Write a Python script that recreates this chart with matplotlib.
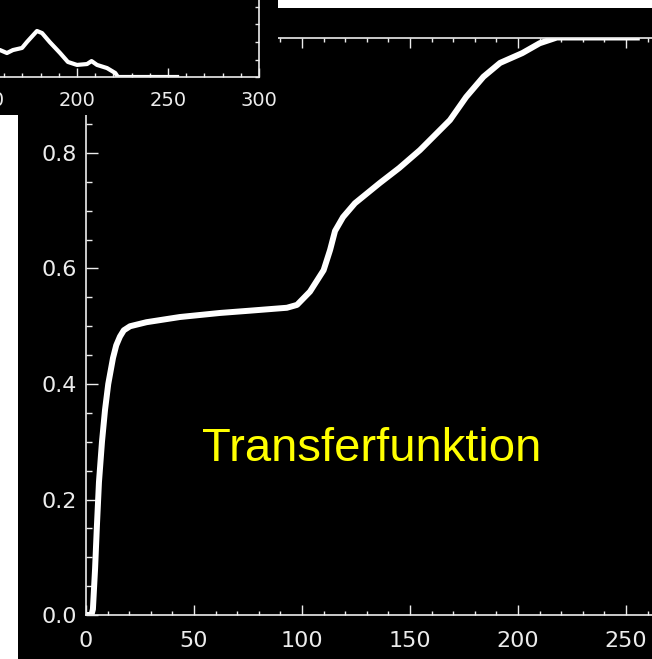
import matplotlib
matplotlib.use("Agg")
import matplotlib.pyplot as plt
from matplotlib.patches import Rectangle
from matplotlib.ticker import MultipleLocator

# transfer function (grey value in -> normalised out)
grey_in = [1, 2.5, 3.2, 4.2, 5, 6, 7.4, 8.8, 10.3, 12.5, 14, 15.7, 17.5, 20.4, 28, 43.5,
           62, 76, 93, 97.7, 103.7, 110, 113, 115.3, 119, 124.5, 136, 145, 154.6,
           168.5, 176, 184, 191.7, 202, 210, 218, 255]
transfer = [0.0, 0.0, 0.01, 0.08, 0.15, 0.23, 0.30, 0.355, 0.40, 0.445, 0.467, 0.482,
            0.493, 0.50, 0.507, 0.516, 0.523, 0.527, 0.532, 0.537, 0.56, 0.597,
            0.632, 0.665, 0.689, 0.713, 0.748, 0.774, 0.805, 0.857, 0.897, 0.932,
            0.956, 0.973, 0.99, 1.0, 1.0]

# histogram (upper tail only)
hist_grey = [150, 157.7, 161.5, 164.8, 169.8, 172.5, 178, 180.8, 185, 190.7, 195,
             200, 205.5, 208, 211, 216.5, 221, 222.5, 255]
hist_count = [1600, 1540, 1370, 1540, 1660, 2000, 2630, 2510, 2000, 1370, 860,
              690, 740, 910, 690, 510, 230, 0, 0]

W, H = 652, 659
fg = "#ececec"
fig = plt.figure(figsize=(W / 100, H / 100), dpi=100, facecolor="white")


def px_box(x0, y0, x1, y1):
    # pixel box measured from the top-left corner -> figure fraction rect
    return [x0 / W, 1 - y1 / H, (x1 - x0) / W, (y1 - y0) / H]


# black panel behind the main plot
b = px_box(18, 8, W, H)
fig.add_artist(Rectangle((b[0], b[1]), b[2], b[3], transform=fig.transFigure,
                         facecolor="black", edgecolor="none", zorder=-1))

ax = fig.add_axes(px_box(86, 37.5, 86 + 300 * 2.16, 615), zorder=1)
ax.set_facecolor("black")
ax.plot(grey_in, transfer, color="white", lw=4.3, solid_joinstyle="round")
ax.set_xlim(0, 300)
ax.set_ylim(0, 1)
ax.xaxis.set_major_locator(MultipleLocator(50))
ax.xaxis.set_minor_locator(MultipleLocator(10))
ax.yaxis.set_major_locator(MultipleLocator(0.2))
ax.yaxis.set_minor_locator(MultipleLocator(0.05))
ax.yaxis.set_major_formatter(lambda v, p: f"{v:.1f}")
ax.tick_params(which="both", direction="in", color=fg, width=1, top=True,
               labelcolor=fg, labelsize=16)
ax.tick_params(axis="x", which="major", length=7.5, pad=11.5)
ax.tick_params(axis="x", which="minor", length=3)
ax.tick_params(axis="y", which="major", length=8.5, pad=6.5)
ax.tick_params(axis="y", which="minor", length=4.3)
for s in ax.spines.values():
    s.set_color(fg)
    s.set_linewidth(1.2)

ax.text(372 / W, 1 - 449 / H, "Transferfunktion", transform=fig.transFigure,
        color="#ffff00", fontsize=34, family="Liberation Sans",
        ha="center", va="center")

# histogram panel in the upper left corner
hb = fig.add_axes(px_box(0, 0, 278, 115), zorder=2)
hb.set_facecolor("black")
hb.set_xticks([])
hb.set_yticks([])
for s in hb.spines.values():
    s.set_visible(False)

hx = fig.add_axes(px_box(77 - 200 * 1.82, -40, 77 + 100 * 1.82, 77), zorder=3)
hx.patch.set_alpha(0)
hx.plot(hist_grey, hist_count, color="white", lw=3, solid_joinstyle="round")
hx.set_xlim(0, 300)
hx.set_ylim(0, (77 + 40) / 17.5 * 1000)
hx.xaxis.set_major_locator(MultipleLocator(50))
hx.xaxis.set_minor_locator(MultipleLocator(10))
hx.yaxis.set_minor_locator(MultipleLocator(1000))
hx.yaxis.set_major_locator(MultipleLocator(5000))
hx.tick_params(which="both", direction="in", color=fg, width=1, right=True,
               left=False, labelleft=False, labelcolor=fg, labelsize=14)
hx.tick_params(axis="x", which="major", length=6.5, pad=10)
hx.tick_params(axis="x", which="minor", length=3)
hx.tick_params(axis="y", which="both", length=3)
for s in hx.spines.values():
    s.set_color(fg)
    s.set_linewidth(1.2)

fig.savefig("out.png", dpi=100, facecolor="white")
